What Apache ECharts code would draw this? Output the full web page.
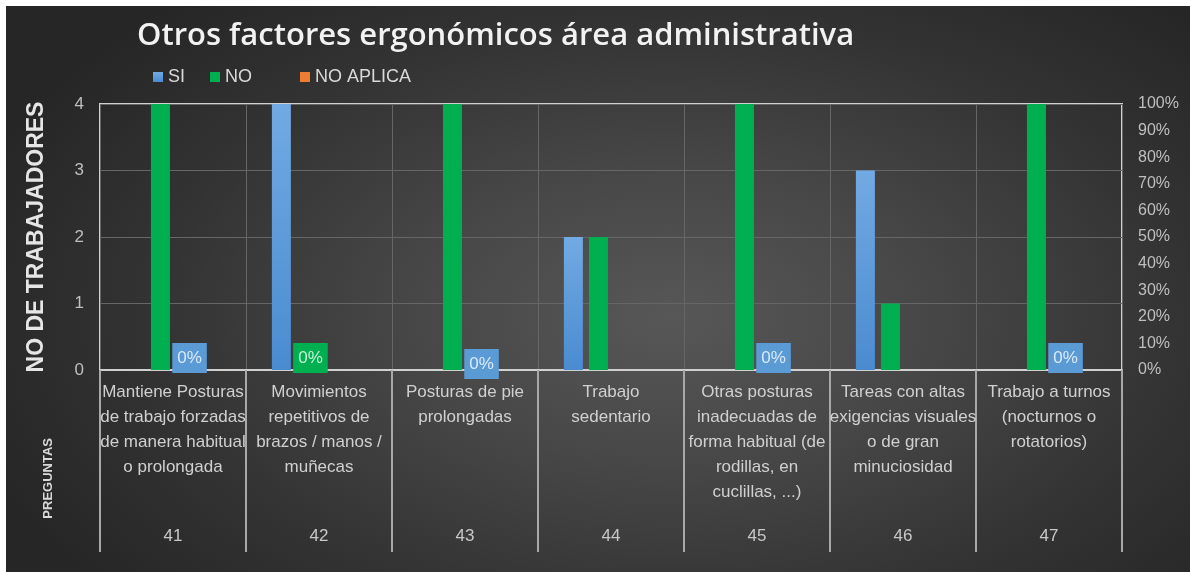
<!DOCTYPE html>
<html>
<head>
<meta charset="utf-8">
<script src="https://cdn.jsdelivr.net/npm/echarts@6/dist/echarts.min.js"></script>
<style>
  html, body { margin: 0; padding: 0; background: #ffffff; width: 1190px; height: 572px; overflow: hidden; }
  #chart { position: absolute; left: 6px; top: 6px; width: 1184px; height: 566px;
    background: radial-gradient(ellipse 62% 75% at 56% 55%, #575757 0%, #474747 35%, #333333 70%, #262626 100%); }
</style>
</head>
<body>
<div id="chart"></div>
<script>
const titleText = 'Otros factores ergonómicos área administrativa';
const categories = [
  'Mantiene Posturas\nde trabajo forzadas\nde manera habitual\no prolongada',
  'Movimientos\nrepetitivos de\nbrazos / manos /\nmuñecas',
  'Posturas de pie\nprolongadas',
  'Trabajo\nsedentario',
  'Otras posturas\ninadecuadas de\nforma habitual (de\nrodillas, en\ncuclillas, ...)',
  'Tareas con altas\nexigencias visuales\no de gran\nminuciosidad',
  'Trabajo a turnos\n(nocturnos o\nrotatorios)'
];
const questionNumbers = ['41', '42', '43', '44', '45', '46', '47'];
const siValues = [0, 4, 0, 2, 0, 3, 0];
const noValues = [4, 0, 4, 2, 4, 1, 4];
const naValues = [0, 0, 0, 0, 0, 0, 0];
const pctValues = [0, 0, 0, 0, 0, 0, 0];
// which series carries the "0%" data label in each category
const pctLabelOn = ['NO APLICA', 'NO', 'NO APLICA', null, 'NO APLICA', null, 'NO APLICA'];
const pctLabelText = '0%';
const leftTicks = [0, 1, 2, 3, 4];
const rightTicks = [0, 10, 20, 30, 40, 50, 60, 70, 80, 90, 100];

const FONT = "'Liberation Sans Narrow', 'Liberation Sans', sans-serif";
const BLUE = '#5b9bd5';
const GREEN = '#00b050';
const ORANGE = '#ed7d31';

function labelFor(seriesName, bg, txt, i) {
  if (pctLabelOn[i] !== seriesName) return { show: false };
  return {
    show: true, position: 'top', distance: -3, offset: [4, i === 2 ? 6 : 0],
    formatter: pctLabelText, backgroundColor: bg, color: txt,
    fontFamily: FONT, fontSize: 17, padding: [7, 5, 6, 5]
  };
}

const blueGrad = { type: 'linear', x: 0, y: 0, x2: 0, y2: 1,
  colorStops: [{ offset: 0, color: '#72aae3' }, { offset: 1, color: '#4a8bd0' }] };

const chart = echarts.init(document.getElementById('chart'), null, { renderer: 'canvas' });
chart.setOption({
  backgroundColor: 'transparent',
  animation: false,
  title: {
    text: titleText, left: 126, top: 10,
    textStyle: { color: '#f2f2f2', fontFamily: "'Open Sans', sans-serif", fontSize: 31, fontWeight: 600 }
  },
  legend: [
    { data: ['SI'], left: 142, top: 57, itemWidth: 10, itemHeight: 10, icon: 'rect', itemGap: 4,
      textStyle: { color: '#d9d9d9', fontFamily: FONT, fontSize: 18 } },
    { data: ['NO'], left: 199, top: 57, itemWidth: 10, itemHeight: 10, icon: 'rect',
      textStyle: { color: '#d9d9d9', fontFamily: FONT, fontSize: 18 } },
    { data: ['NO APLICA'], left: 289, top: 57, itemWidth: 10, itemHeight: 10, icon: 'rect',
      textStyle: { color: '#d9d9d9', fontFamily: FONT, fontSize: 18 } }
  ],
  grid: { left: 94, right: 68, top: 98, bottom: 202, show: true, borderColor: '#d0d0d0', borderWidth: 2, backgroundColor: 'transparent' },
  xAxis: [
    {
      type: 'category', data: categories, position: 'bottom',
      axisLine: { show: true, lineStyle: { color: '#d0d0d0', width: 2 } },
      axisTick: { show: true, length: 182, lineStyle: { color: '#a8a8a8', width: 2 } },
      splitLine: { show: true, lineStyle: { color: '#666666', width: 1 } },
      axisLabel: { color: '#d0d0d0', fontFamily: FONT, fontSize: 17, lineHeight: 25, margin: 10, interval: 0 }
    },
    {
      type: 'category', data: questionNumbers, position: 'bottom', offset: 0,
      axisLine: { show: false }, axisTick: { show: false }, splitLine: { show: false },
      axisLabel: { color: '#c8c8c8', fontFamily: FONT, fontSize: 17, lineHeight: 20, margin: 156, interval: 0 }
    }
  ],
  yAxis: [
    {
      type: 'value', min: 0, max: 4, interval: 1,
      name: 'NO DE TRABAJADORES', nameLocation: 'middle', nameGap: 52, nameRotate: 90,
      nameTextStyle: { color: '#e6e6e6', fontFamily: "'Liberation Sans', sans-serif", fontWeight: 'bold', fontSize: 23 },
      axisLine: { show: false }, axisTick: { show: false },
      splitLine: { show: true, lineStyle: { color: '#666666', width: 1 } },
      axisLabel: { color: '#bfbfbf', fontFamily: FONT, fontSize: 17, margin: 16,
        formatter: v => leftTicks.includes(v) ? String(v) : '' }
    },
    {
      type: 'value', min: 0, max: 100, interval: 10, position: 'right',
      axisLine: { show: false }, axisTick: { show: false }, splitLine: { show: false },
      axisLabel: { color: '#bfbfbf', fontFamily: FONT, fontSize: 16, margin: 16,
        formatter: v => rightTicks.includes(v) ? v + '%' : '' }
    }
  ],
  series: [
    { name: 'SI', type: 'bar', xAxisIndex: 0, yAxisIndex: 0, barWidth: 19, barGap: '32%',
      itemStyle: { color: blueGrad },
      data: siValues.map((v, i) => ({ value: v, label: labelFor('SI', BLUE, '#dbe9f7', i) })) },
    { name: 'NO', type: 'bar', xAxisIndex: 0, yAxisIndex: 0, barWidth: 19, barGap: '32%',
      itemStyle: { color: GREEN },
      data: noValues.map((v, i) => ({ value: v, label: labelFor('NO', GREEN, '#c9f0d8', i) })) },
    { name: 'NO APLICA', type: 'bar', xAxisIndex: 0, yAxisIndex: 0, barWidth: 19, barGap: '32%',
      itemStyle: { color: ORANGE },
      data: naValues.map((v, i) => ({ value: v, label: labelFor('NO APLICA', BLUE, '#dbe9f7', i) })) },
    { name: 'Porcentaje', type: 'bar', xAxisIndex: 0, yAxisIndex: 1, barWidth: 19, barGap: '32%',
      itemStyle: { color: BLUE }, data: pctValues }
  ],
  graphic: [
    { type: 'text', left: 36, top: 432, rotation: Math.PI / 2,
      style: { text: 'PREGUNTAS', fill: '#d9d9d9', font: "bold 13px 'Liberation Sans', sans-serif" } }
  ]
});
</script>
</body>
</html>
